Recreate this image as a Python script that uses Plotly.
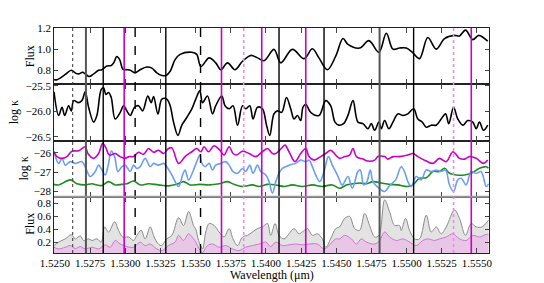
import plotly.graph_objects as go
from plotly.subplots import make_subplots

# ---------------- data ----------------
flux_wl = [1.52493, 1.52514, 1.52573, 1.52616, 1.52649, 1.52668, 1.52697, 1.52715, 1.52744, 1.52775,
           1.52810, 1.52834, 1.52869, 1.52900, 1.52917, 1.52940, 1.52960, 1.52983, 1.53011, 1.53035,
           1.53070, 1.53106, 1.53153, 1.53189, 1.53224, 1.53260, 1.53290, 1.53319, 1.53354, 1.53390,
           1.53473, 1.53508, 1.53537, 1.53596, 1.53643, 1.53679, 1.53727, 1.53780, 1.53833, 1.53892,
           1.53940, 1.53986, 1.54058, 1.54105, 1.54188, 1.54271, 1.54330, 1.54377, 1.54437, 1.54496,
           1.54548, 1.54583, 1.54666, 1.54732, 1.54803, 1.54856, 1.54903, 1.54950, 1.54998, 1.55045,
           1.55092, 1.55151, 1.55211, 1.55270, 1.55341, 1.55376, 1.55419, 1.55471, 1.55513, 1.55577]
flux_val = [0.71, 0.71, 0.76, 0.80, 0.77, 0.765, 0.78, 0.765, 0.74, 0.765,
            0.80, 0.805, 0.84, 0.845, 0.87, 0.93, 0.90, 0.81, 0.805, 0.80,
            0.775, 0.805, 0.83, 0.82, 0.775, 0.75, 0.75, 0.79, 0.90, 0.95,
            0.97, 0.95, 0.835, 0.917, 0.87, 0.805, 0.87, 0.805, 0.885, 0.94,
            0.917, 0.89, 0.997, 0.87, 0.997, 0.91, 1.003, 0.917, 0.805, 0.933,
            1.10, 1.045, 1.01, 1.08, 0.97, 1.15, 1.0, 1.01, 1.01, 0.965,
            0.91, 1.11, 1.0, 1.10, 1.13, 1.125, 1.18, 1.09, 1.13, 1.075]

kap_wl = [1.52493, 1.52526, 1.52550, 1.52569, 1.52597, 1.52616, 1.52633, 1.52668, 1.52692, 1.52715,
          1.52739, 1.52775, 1.52798, 1.52829, 1.52846, 1.52862, 1.52881, 1.52900, 1.52928, 1.52964,
          1.52988, 1.53011, 1.53035, 1.53066, 1.53094, 1.53123, 1.53160, 1.53184, 1.53201, 1.53232,
          1.53260, 1.53295, 1.53319, 1.53343, 1.53374, 1.53402, 1.53437, 1.53473, 1.53501, 1.53530,
          1.53549, 1.53584, 1.53620, 1.53643, 1.53686, 1.53709, 1.53738, 1.53766, 1.53798, 1.53833,
          1.53856, 1.53885, 1.53908, 1.53940, 1.53975, 1.54004, 1.54027, 1.54057, 1.54082, 1.54112,
          1.54146, 1.54176, 1.54200, 1.54224, 1.54247, 1.54263, 1.54283, 1.54318, 1.54377, 1.54425,
          1.54460, 1.54491, 1.54519, 1.54552, 1.54583, 1.54619, 1.54654, 1.54690, 1.54725, 1.54749,
          1.54773, 1.54803, 1.54820, 1.54844, 1.54874, 1.54903, 1.54938, 1.54974, 1.55009, 1.55050,
          1.55080, 1.55111, 1.55140, 1.55175, 1.55211, 1.55246, 1.55277, 1.55300, 1.55334, 1.55364,
          1.55400, 1.55435, 1.55471, 1.55495, 1.55518, 1.55547, 1.55577]
kap_val = [-25.62, -26.08, -25.92, -26.08, -25.89, -25.99, -25.79, -25.83, -25.79, -25.62,
           -25.92, -26.21, -26.08, -25.57, -25.54, -25.67, -25.63, -25.73, -26.15, -26.02,
           -25.89, -25.99, -26.08, -25.92, -25.89, -25.99, -25.70, -25.83, -25.71, -26.05,
           -25.76, -25.76, -25.89, -26.21, -26.47, -26.27, -26.12, -25.95, -25.76, -25.60,
           -25.83, -25.70, -26.05, -25.89, -25.70, -25.89, -25.95, -25.89, -26.27, -25.89,
           -25.95, -25.89, -26.15, -25.92, -25.95, -26.27, -26.47, -26.05, -25.99, -26.02,
           -25.73, -25.95, -26.15, -26.08, -26.18, -25.92, -25.86, -26.02, -26.08, -25.79,
           -25.89, -26.21, -26.27, -26.24, -26.08, -25.79, -26.21, -26.24, -26.34, -26.24,
           -26.37, -26.21, -26.34, -26.18, -26.34, -26.21, -26.05, -26.08, -26.05, -25.95,
           -26.15, -26.21, -26.31, -26.27, -26.27, -26.15, -26.05, -26.24, -25.92, -26.15,
           -26.27, -26.18, -26.21, -26.34, -26.21, -26.37, -26.27]

mag_wl = [1.52493, 1.52514, 1.52550, 1.52585, 1.52621, 1.52668, 1.52715, 1.52734, 1.52775, 1.52810,
          1.52839, 1.52862, 1.52886, 1.52928, 1.52964, 1.52995, 1.53028, 1.53059, 1.53094, 1.53130,
          1.53165, 1.53201, 1.53236, 1.53272, 1.53307, 1.53331, 1.53379, 1.53425, 1.53473, 1.53508,
          1.53537, 1.53560, 1.53592, 1.53631, 1.53672, 1.53702, 1.53738, 1.53766, 1.53790, 1.53833,
          1.53880, 1.53928, 1.53975, 1.54011, 1.54046, 1.54070, 1.54105, 1.54136, 1.54164, 1.54207,
          1.54247, 1.54283, 1.54306, 1.54342, 1.54389, 1.54425, 1.54460, 1.54496, 1.54524, 1.54560,
          1.54595, 1.54619, 1.54643, 1.54690, 1.54725, 1.54773, 1.54796, 1.54844, 1.54867, 1.54903,
          1.54950, 1.55009, 1.55045, 1.55080, 1.55140, 1.55187, 1.55234, 1.55282, 1.55329, 1.55376,
          1.55412, 1.55447, 1.55495, 1.55547, 1.55577]
mag_val = [-25.95, -26.2, -26.29, -26.2, -25.92, -25.9, -25.69, -26.04, -26.29, -26.04,
           -25.52, -25.75, -26.12, -26.04, -26.2, -26.29, -26.2, -26.2, -25.98, -26.08,
           -25.78, -25.98, -25.87, -26.04, -25.78, -25.75, -26.55, -26.2, -25.95, -25.78,
           -25.95, -25.69, -25.95, -25.64, -25.87, -26.12, -25.69, -26.04, -26.12, -25.92,
           -26.04, -26.2, -25.95, -25.78, -26.04, -26.04, -25.81, -25.61, -25.95, -26.46,
           -26.04, -25.78, -26.2, -26.38, -26.2, -26.04, -25.87, -26.12, -26.29, -26.2,
           -26.12, -25.78, -26.2, -26.33, -26.43, -26.38, -26.2, -26.2, -26.33, -26.2,
           -26.2, -26.12, -26.04, -26.2, -26.43, -26.55, -26.29, -26.46, -25.95, -26.29,
           -26.33, -26.2, -26.29, -26.55, -26.38]

blue_wl = [1.52493, 1.52526, 1.52550, 1.52573, 1.52609, 1.52644, 1.52692, 1.52715, 1.52751, 1.52786,
           1.52810, 1.52834, 1.52857, 1.52881, 1.52900, 1.52924, 1.52947, 1.52976, 1.52999, 1.53035,
           1.53059, 1.53082, 1.53106, 1.53141, 1.53177, 1.53201, 1.53236, 1.53272, 1.53295, 1.53331,
           1.53379, 1.53407, 1.53425, 1.53450, 1.53485, 1.53508, 1.53530, 1.53544, 1.53567, 1.53596,
           1.53620, 1.53643, 1.53679, 1.53714, 1.53738, 1.53766, 1.53798, 1.53833, 1.53856, 1.53885,
           1.53908, 1.53940, 1.53963, 1.53999, 1.54022, 1.54046, 1.54070, 1.54093, 1.54117, 1.54164,
           1.54212, 1.54247, 1.54283, 1.54306, 1.54330, 1.54354, 1.54382, 1.54413, 1.54444, 1.54472,
           1.54508, 1.54543, 1.54583, 1.54614, 1.54654, 1.54671, 1.54695, 1.54718, 1.54742, 1.54761,
           1.54803, 1.54844, 1.54879, 1.54922, 1.54962, 1.54985, 1.55009, 1.55033, 1.55069, 1.55104,
           1.55140, 1.55175, 1.55211, 1.55246, 1.55277, 1.55305, 1.55334, 1.55364, 1.55388, 1.55423,
           1.55459, 1.55495, 1.55530, 1.55566, 1.55582]
blue_val = [-25.95, -26.55, -26.29, -26.64, -26.46, -26.55, -26.46, -26.72, -27.23, -26.97,
            -26.64, -26.89, -27.15, -26.55, -25.92, -26.2, -26.97, -26.72, -26.64, -26.97,
            -26.64, -26.81, -26.72, -26.29, -26.72, -26.55, -26.64, -26.55, -26.72, -27.15,
            -27.74, -27.15, -26.89, -27.4, -26.89, -26.46, -26.12, -26.55, -26.72, -26.55,
            -26.89, -26.64, -26.55, -26.46, -26.64, -26.97, -27.06, -26.81, -26.97, -26.64,
            -27.06, -26.64, -26.97, -27.15, -27.49, -28.09, -27.49, -27.06, -26.81, -26.64,
            -26.55, -26.38, -26.46, -26.38, -26.72, -27.15, -27.49, -26.97, -26.2, -26.64,
            -27.15, -27.66, -27.23, -27.83, -26.97, -26.89, -27.66, -27.49, -26.89, -27.49,
            -27.83, -28.0, -27.7, -27.4, -26.72, -26.97, -27.49, -27.74, -27.23, -27.4,
            -26.89, -26.97, -26.89, -26.97, -26.89, -27.66, -28.0, -27.4, -27.32, -27.66,
            -26.97, -27.06, -26.97, -27.74, -27.6]

green_wl = [1.52493, 1.52526, 1.52609, 1.52656, 1.52715, 1.52763, 1.52798, 1.52834, 1.52881, 1.52928,
            1.52976, 1.53011, 1.53059, 1.53106, 1.53165, 1.53236, 1.53307, 1.53366, 1.53414, 1.53461,
            1.53530, 1.53596, 1.53667, 1.53727, 1.53773, 1.53833, 1.53904, 1.53951, 1.54011, 1.54070,
            1.54129, 1.54188, 1.54259, 1.54330, 1.54401, 1.54472, 1.54524, 1.54572, 1.54619, 1.54666,
            1.54714, 1.54761, 1.54820, 1.54879, 1.54938, 1.55009, 1.55045, 1.55092, 1.55140, 1.55187,
            1.55234, 1.55270, 1.55305, 1.55353, 1.55412, 1.55459, 1.55518, 1.55566, 1.55582]
green_val = [-27.63, -27.66, -27.4, -27.6, -27.66, -27.6, -27.66, -27.69, -27.49, -27.66,
             -27.63, -27.6, -27.46, -27.66, -27.6, -27.66, -27.71, -27.63, -27.49, -27.66,
             -27.63, -27.66, -27.6, -27.49, -27.63, -27.74, -27.66, -27.74, -27.63, -27.66,
             -27.74, -27.66, -27.74, -27.66, -27.74, -27.66, -27.83, -27.66, -27.6, -27.56,
             -27.6, -27.49, -27.56, -27.63, -27.66, -27.74, -27.66, -27.32, -27.29, -26.97,
             -26.97, -26.8, -27.06, -27.15, -27.15, -27.06, -26.8, -26.72, -26.8]

gray_wl = [1.52493, 1.52526, 1.52573, 1.52616, 1.52644, 1.52680, 1.52704, 1.52739, 1.52763, 1.52798,
           1.52829, 1.52853, 1.52881, 1.52924, 1.52952, 1.52981, 1.53023, 1.53059, 1.53082, 1.53113,
           1.53141, 1.53177, 1.53201, 1.53224, 1.53255, 1.53295, 1.53331, 1.53379, 1.53414, 1.53450,
           1.53485, 1.53501, 1.53521, 1.53549, 1.53572, 1.53596, 1.53631, 1.53667, 1.53702, 1.53738,
           1.53766, 1.53798, 1.53833, 1.53869, 1.53904, 1.53940, 1.53975, 1.54011, 1.54034, 1.54065,
           1.54093, 1.54129, 1.54164, 1.54200, 1.54235, 1.54259, 1.54295, 1.54330, 1.54366, 1.54401,
           1.54425, 1.54460, 1.54496, 1.54524, 1.54560, 1.54595, 1.54631, 1.54666, 1.54702, 1.54737,
           1.54773, 1.54803, 1.54844, 1.54879, 1.54915, 1.54950, 1.54962, 1.54993, 1.55021, 1.55057,
           1.55092, 1.55140, 1.55175, 1.55211, 1.55246, 1.55282, 1.55341, 1.55376, 1.55419, 1.55459,
           1.55495, 1.55537, 1.55582]
gray_val = [0.146, 0.2, 0.25, 0.315, 0.25, 0.295, 0.225, 0.25, 0.225, 0.25,
            0.2, 0.437, 0.358, 0.516, 0.383, 0.28, 0.28, 0.225, 0.305, 0.383,
            0.25, 0.437, 0.305, 0.2, 0.146, 0.25, 0.305, 0.58, 0.46, 0.674,
            0.46, 0.40, 0.225, 0.094, 0.358, 0.49, 0.46, 0.358, 0.28, 0.41,
            0.25, 0.146, 0.28, 0.305, 0.358, 0.41, 0.437, 0.49, 0.305, 0.49,
            0.305, 0.25, 0.33, 0.41, 0.33, 0.358, 0.41, 0.305, 0.33, 0.25,
            0.12, 0.25, 0.41, 0.437, 0.57, 0.6, 0.41, 0.383, 0.647, 0.46,
            0.28, 0.305, 0.857, 0.674, 0.46, 0.46, 0.383, 0.57, 0.383, 0.25,
            0.25, 0.62, 0.358, 0.437, 0.33, 0.437, 0.7, 0.57, 0.305, 0.49,
            0.437, 0.437, 0.54]

pink_wl = [1.52493, 1.52526, 1.52573, 1.52609, 1.52644, 1.52680, 1.52715, 1.52763, 1.52810, 1.52857,
           1.52893, 1.52928, 1.52964, 1.53011, 1.53059, 1.53106, 1.53141, 1.53177, 1.53224, 1.53260,
           1.53307, 1.53354, 1.53379, 1.53414, 1.53450, 1.53485, 1.53501, 1.53525, 1.53549, 1.53584,
           1.53620, 1.53667, 1.53714, 1.53762, 1.53809, 1.53856, 1.53904, 1.53951, 1.53999, 1.54034,
           1.54070, 1.54117, 1.54164, 1.54212, 1.54259, 1.54306, 1.54366, 1.54413, 1.54448, 1.54496,
           1.54524, 1.54560, 1.54607, 1.54643, 1.54678, 1.54714, 1.54773, 1.54808, 1.54844, 1.54879,
           1.54927, 1.54974, 1.55021, 1.55069, 1.55115, 1.55151, 1.55199, 1.55234, 1.55282, 1.55329,
           1.55376, 1.55423, 1.55471, 1.55518, 1.55566, 1.55582]
pink_val = [0.12, 0.094, 0.12, 0.146, 0.10, 0.13, 0.094, 0.12, 0.094, 0.157,
            0.12, 0.225, 0.17, 0.13, 0.12, 0.2, 0.146, 0.17, 0.094, 0.067,
            0.146, 0.2, 0.305, 0.225, 0.33, 0.25, 0.2, 0.094, 0.04, 0.146,
            0.17, 0.12, 0.146, 0.094, 0.067, 0.12, 0.146, 0.17, 0.2, 0.13,
            0.2, 0.146, 0.157, 0.17, 0.157, 0.17, 0.17, 0.094, 0.146, 0.25,
            0.25, 0.305, 0.25, 0.17, 0.25, 0.2, 0.17, 0.225, 0.358, 0.28,
            0.225, 0.25, 0.2, 0.146, 0.225, 0.25, 0.225, 0.25, 0.28, 0.33,
            0.25, 0.225, 0.305, 0.28, 0.32, 0.32]

# vertical marker lines: wavelength and kind
line_wl = [1.52626, 1.52720, 1.52843, 1.52992, 1.53070, 1.53288, 1.53535, 1.53684, 1.53842,
           1.53970, 1.54093, 1.54283, 1.54413, 1.54808, 1.55050, 1.55334, 1.55460]
line_kind = ["dot", "gray", "black", "mag", "dash", "black", "dash", "mag", "violet",
             "mag", "black", "mag", "black", "gray", "black", "violet", "mag"]

x_ticks = [1.5250, 1.5275, 1.5300, 1.5325, 1.5350, 1.5375, 1.5400, 1.5425,
           1.5450, 1.5475, 1.5500, 1.5525, 1.5550]

# ---------------- figure ----------------
FONT = "Liberation Serif"
fig = make_subplots(rows=4, cols=1, shared_xaxes=True, vertical_spacing=0)

sp = "spline"
fig.add_trace(go.Scatter(x=flux_wl, y=flux_val, mode="lines", line=dict(color="black", width=1.6, shape=sp)), row=1, col=1)
fig.add_trace(go.Scatter(x=kap_wl, y=kap_val, mode="lines", line=dict(color="black", width=1.6, shape=sp)), row=2, col=1)
fig.add_trace(go.Scatter(x=green_wl, y=green_val, mode="lines", line=dict(color="#1f8c1f", width=1.6, shape=sp)), row=3, col=1)
fig.add_trace(go.Scatter(x=blue_wl, y=blue_val, mode="lines", line=dict(color="#6a9ff5", width=1.6, shape=sp)), row=3, col=1)
fig.add_trace(go.Scatter(x=mag_wl, y=mag_val, mode="lines", line=dict(color="#c800c8", width=1.6, shape=sp)), row=3, col=1)
fig.add_trace(go.Scatter(x=gray_wl, y=gray_val, mode="lines", fill="tozeroy", fillcolor="#e3e3e3",
                         line=dict(color="#8a8a8a", width=1, shape=sp)), row=4, col=1)
fig.add_trace(go.Scatter(x=pink_wl, y=pink_val, mode="lines", fill="tozeroy", fillcolor="#e8c6e6",
                         line=dict(color="#cc77cc", width=1, shape=sp)), row=4, col=1)

styles = {
    "dot": dict(color="#333333", width=1, dash="dot"),
    "gray": dict(color="#555555", width=2, dash="solid"),
    "black": dict(color="black", width=1.4, dash="solid"),
    "dash": dict(color="black", width=1.4, dash="dash"),
    "mag": dict(color="#c800c8", width=1.6, dash="solid"),
    "violet": dict(color="#ee88ee", width=1.6, dash="dot"),
}
for wl, kind in zip(line_wl, line_kind):
    fig.add_shape(type="line", xref="x", yref="paper", x0=wl, x1=wl, y0=0, y1=1,
                  line=styles[kind], layer="above")

# gray separator between panel 3 and 4
fig.add_shape(type="line", xref="paper", yref="paper", x0=0, x1=1, y0=0.25, y1=0.25,
              line=dict(color="#999999", width=2), layer="above")

yranges = [[0.667, 1.2], [-26.57, -25.47], [-28.27, -25.37], [0.03, 0.907]]
ytick_sets = [[0.8, 1.0, 1.2], [-26.5, -26.0, -25.5], [-28, -27, -26], [0.2, 0.4, 0.6, 0.8]]
ytick_fmt = [".1f", ".1f", "d", ".1f"]
for i in range(4):
    fig.update_yaxes(row=i + 1, col=1, range=yranges[i], tickvals=ytick_sets[i], tickformat=ytick_fmt[i],
                     ticks="inside", ticklen=4, mirror="ticks", showline=True, linecolor="#222222",
                     linewidth=0.8, showgrid=False, zeroline=False,
                     tickfont=dict(family=FONT, size=11, color="black"))
    fig.update_xaxes(row=i + 1, col=1, range=[1.52493, 1.55586], tickvals=x_ticks, tickformat=".4f",
                     ticks="inside", ticklen=5, mirror="ticks", showline=True, linecolor="#222222",
                     linewidth=0.8, showgrid=False, zeroline=False,
                     tickfont=dict(family=FONT, size=11, color="black"))

ylabels = [("Flux", -0.055, 0.875), ("log κ", -0.092, 0.625), ("log κ", -0.069, 0.375), ("Flux", -0.055, 0.13)]
for txt, xp, yp in ylabels:
    fig.add_annotation(text=txt, xref="paper", yref="paper", x=xp, y=yp, showarrow=False,
                       textangle=-90, font=dict(family=FONT, size=12, color="black"),
                       xanchor="center", yanchor="middle")

fig.add_annotation(text="Wavelength (μm)", xref="paper", yref="paper", x=0.50, y=-0.097,
                   showarrow=False, font=dict(family=FONT, size=12, color="black"),
                   xanchor="center", yanchor="middle")

# page body has an 8px default margin, so the figure is sized and placed to compensate
fig.update_layout(width=536, height=275, margin=dict(l=46, r=55, t=20, b=30),
                  plot_bgcolor="white", paper_bgcolor="white", showlegend=False,
                  font=dict(family=FONT, color="black"))

fig.write_html("out.html")
